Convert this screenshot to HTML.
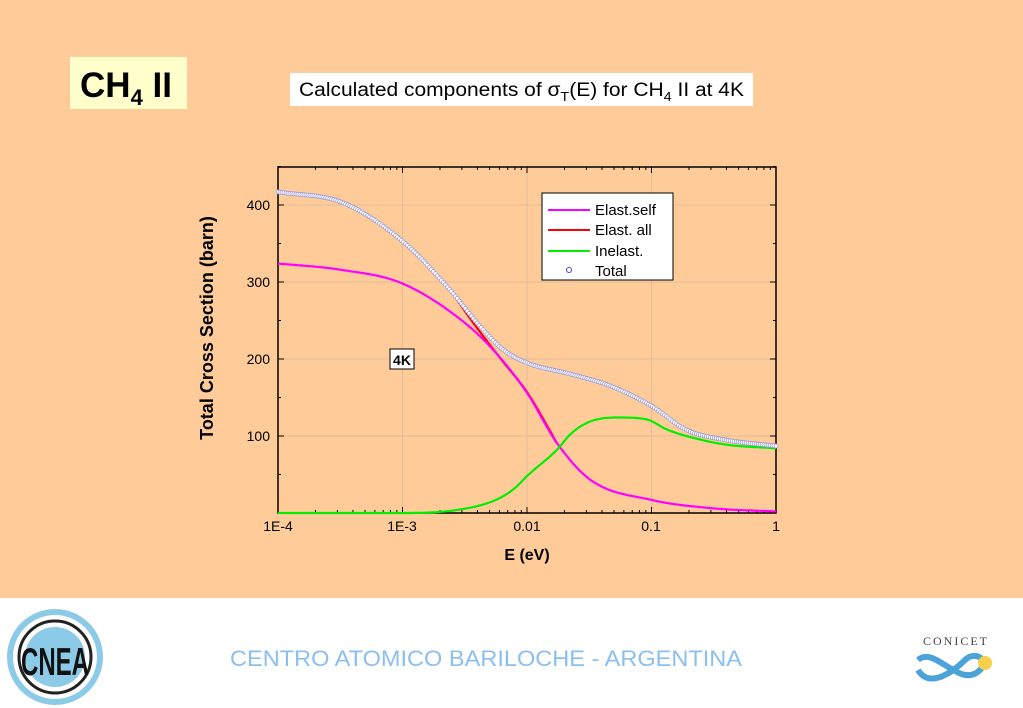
<!DOCTYPE html>
<html><head><meta charset="utf-8"><style>
html,body{margin:0;padding:0;width:1023px;height:708px;overflow:hidden;background:#FFCC99;font-family:"Liberation Sans",sans-serif}
</style></head><body>
<svg id="s" width="1023" height="708" xmlns="http://www.w3.org/2000/svg" font-family="Liberation Sans, sans-serif">
<rect width="1023" height="598" fill="#FFCC99"/>
<rect y="598" width="1023" height="110" fill="#fff"/>
<rect x="70" y="57" width="117" height="52" fill="#FFFFCC"/>
<text x="80" y="97" font-size="35" font-weight="bold">CH<tspan font-size="22" dy="8">4</tspan><tspan dy="-8"> II</tspan></text>
<rect x="290" y="73" width="463" height="33" fill="#fff"/>
<text x="299" y="96" font-size="19" textLength="445" lengthAdjust="spacingAndGlyphs">Calculated components of σ<tspan font-size="13" dy="5">T</tspan><tspan dy="-5">(E) for CH</tspan><tspan font-size="13" dy="5">4</tspan><tspan dy="-5"> II at 4K</tspan></text>
<g id="grid" stroke="#d8b898" stroke-width="0.8"></g>
<rect x="278" y="167" width="498" height="346" fill="none" stroke="#000" stroke-width="1.5"/>
<g id="ticks" stroke="#000" stroke-width="1"></g>
<g font-size="14" text-anchor="middle">
<text x="278" y="531">1E-4</text><text x="402" y="531">1E-3</text><text x="527" y="531">0.01</text><text x="651" y="531">0.1</text><text x="776" y="531">1</text>
</g>
<g font-size="14" text-anchor="end">
<text x="270" y="210">400</text><text x="270" y="287">300</text><text x="270" y="364">200</text><text x="270" y="441">100</text>
</g>
<text x="527" y="560" font-size="16" font-weight="bold" text-anchor="middle">E (eV)</text>
<text transform="translate(213,328) rotate(-90)" font-size="18" font-weight="bold" text-anchor="middle">Total Cross Section (barn)</text>
<g id="curves" fill="none" stroke-width="2.2"></g>
<rect x="390" y="349" width="24" height="20" fill="#fff" stroke="#000"/>
<text x="402" y="365" font-size="14" font-weight="bold" text-anchor="middle">4K</text>
<rect x="542" y="193" width="131" height="87" fill="#fff" stroke="#000"/>
<g font-size="15">
<line x1="548" y1="210" x2="590" y2="210" stroke="#ff00ff" stroke-width="2"/><text x="595" y="215">Elast.self</text>
<line x1="548" y1="230" x2="590" y2="230" stroke="#ff0000" stroke-width="2"/><text x="595" y="235">Elast. all</text>
<line x1="548" y1="251" x2="590" y2="251" stroke="#00ee00" stroke-width="2"/><text x="595" y="256">Inelast.</text>
<circle cx="569" cy="270" r="2.5" fill="none" stroke="#4444cc"/><text x="595" y="276">Total</text>
</g>
<g>
<ellipse cx="55" cy="657" rx="45" ry="45" fill="#fff" stroke="#8ccbe8" stroke-width="6"/>
<ellipse cx="55" cy="657" rx="36" ry="36" fill="none" stroke="#222" stroke-width="3"/>
<ellipse cx="55" cy="657" rx="30" ry="30" fill="#8ccbe8"/>
<text x="55" y="671" font-size="30" font-weight="bold" text-anchor="middle" fill="#111" transform="translate(55,657) scale(0.8,1.3) translate(-55,-657)">CNEA</text>
</g>
<text x="230" y="666" font-size="22" fill="#8bbff0" textLength="512" lengthAdjust="spacingAndGlyphs">CENTRO ATOMICO BARILOCHE - ARGENTINA</text>
<text x="956" y="645" font-size="12" font-family="Liberation Serif, serif" letter-spacing="2" fill="#444" text-anchor="middle">CONICET</text>
<path d="M918 660 C935 645,960 690,980 670 C990 660,975 650,965 660 C955 670,930 690,918 670" fill="none" stroke="#4aa3d9" stroke-width="6"/>
<circle cx="985" cy="663" r="7" fill="#f5d04a"/>
</svg>
<script>
const X=l=>278+124.5*(l+4), Y=v=>513-0.77*v;
const ns="http://www.w3.org/2000/svg";
const g=document.getElementById('grid'),t=document.getElementById('ticks'),c=document.getElementById('curves');
function ln(p,x1,y1,x2,y2){const e=document.createElementNS(ns,'line');e.setAttribute('x1',x1);e.setAttribute('y1',y1);e.setAttribute('x2',x2);e.setAttribute('y2',y2);p.appendChild(e);}
for(let d=-3;d<=-1;d++)ln(g,X(d),167,X(d),513);
for(let v=100;v<=400;v+=100)ln(g,278,Y(v),776,Y(v));
for(let d=-4;d<0;d++)for(let k=1;k<10;k++){const x=X(d+Math.log10(k));const L=k==1?6:3;ln(t,x,513,x,513-L);ln(t,x,167,x,167+L);}
for(let v=50;v<=450;v+=50){const L=v%100?3:6;ln(t,278,Y(v),278+L,Y(v));ln(t,776,Y(v),776-L,Y(v));}
function mono(pts){const n=pts.length,xs=pts.map(p=>p[0]),ys=pts.map(p=>p[1]);const d=[],m=[];
for(let i=0;i<n-1;i++)d.push((ys[i+1]-ys[i])/(xs[i+1]-xs[i]));
m[0]=d[0];m[n-1]=d[n-2];for(let i=1;i<n-1;i++){m[i]=(d[i-1]*d[i]<=0)?0:(d[i-1]+d[i])/2;}
for(let i=0;i<n-1;i++){if(d[i]==0){m[i]=0;m[i+1]=0;continue;}const a=m[i]/d[i],b=m[i+1]/d[i],s=a*a+b*b;if(s>9){const tt=3/Math.sqrt(s);m[i]=tt*a*d[i];m[i+1]=tt*b*d[i];}}
return l=>{if(l<=xs[0])return ys[0];for(let i=0;i<n-1;i++){if(l<=xs[i+1]){const h=xs[i+1]-xs[i],s=(l-xs[i])/h;const h00=2*s*s*s-3*s*s+1,h10=s*s*s-2*s*s+s,h01=-2*s*s*s+3*s*s,h11=s*s*s-s*s;return h00*ys[i]+h10*h*m[i]+h01*ys[i+1]+h11*h*m[i+1];}}return ys[n-1];};}
const mag=mono([[-4,324],[-3.5,316],[-3,298],[-2.5,247],[-2.25,208],[-2,156],[-1.76,91],[-1.49,43],[-1,17],[-0.5,6],[0,2]]);
const tot=mono([[-4,417],[-3.48,403],[-3,353],[-2.62,290],[-2.38,243],[-2.19,212],[-2,195],[-1.64,180],[-1.33,165],[-1,139],[-0.72,108],[-0.41,95],[0,87]]);
const grn=mono([[-4,0],[-3,0],[-2.56,4],[-2.25,17],[-2.1,32],[-2,48],[-1.76,82],[-1.64,104],[-1.49,119],[-1.27,124],[-1.05,122],[-0.87,108],[-0.72,100],[-0.41,89],[0,84]]);
const redf=mono([[-2.62,290],[-2.4,240],[-2.2,198],[-2,157],[-1.76,91]]);
function path(f,col,a=-4,b=0){let d='';for(let l=a;l<=b+0.0001;l+=0.01){d+=(d?'L':'M')+X(l).toFixed(1)+' '+Y(f(l)).toFixed(1);}const e=document.createElementNS(ns,'path');e.setAttribute('d',d);e.setAttribute('stroke',col);c.appendChild(e);}
path(redf,'#ff0000',-2.62,-1.76);path(mag,'#ff00ff');path(grn,'#00ee00');
for(let l=-4;l<=0.0001;l+=0.016){const e=document.createElementNS(ns,'circle');e.setAttribute('cx',X(l));e.setAttribute('cy',Y(tot(l)));e.setAttribute('r',2);e.setAttribute('fill','#fff');e.setAttribute('stroke','#9a9ad8');e.setAttribute('stroke-width','0.8');c.appendChild(e);}
</script>
</body></html>
